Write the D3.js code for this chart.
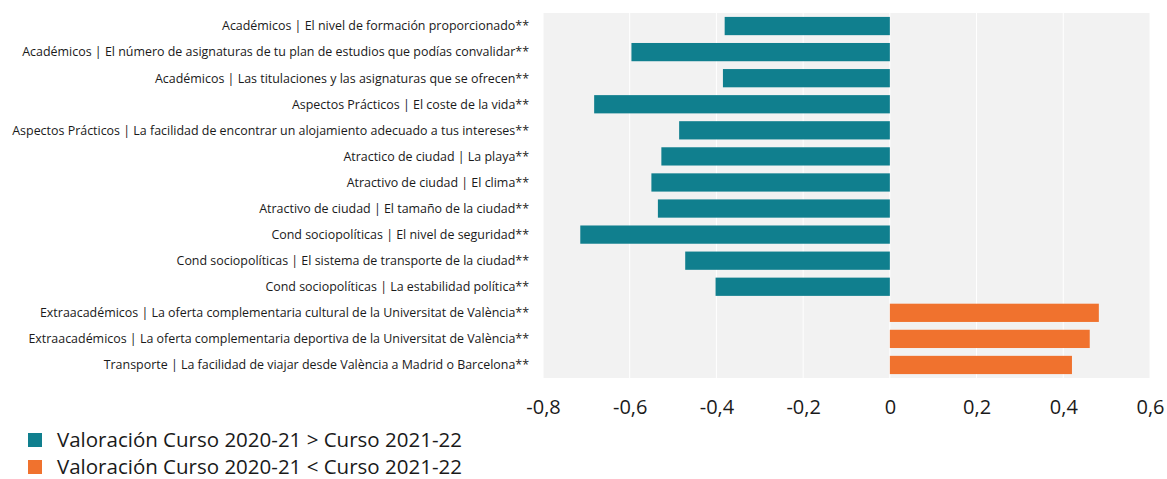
<!DOCTYPE html>
<html>
<head>
<meta charset="utf-8">
<script src="https://cdn.jsdelivr.net/npm/d3@7"></script>
<style>
  html, body { margin: 0; padding: 0; background: #fff; }
  svg { display: block; }
  text { font-family: "Open Sans", "Noto Sans", sans-serif; fill: #1a1a1a; }
</style>
</head>
<body>
<svg id="chart" width="1167" height="479"></svg>
<script>
const categories = [
  "Académicos | El nivel de formación proporcionado**",
  "Académicos | El número de asignaturas de tu plan de estudios que podías convalidar**",
  "Académicos | Las titulaciones y las asignaturas que se ofrecen**",
  "Aspectos Prácticos | El coste de la vida**",
  "Aspectos Prácticos | La facilidad de encontrar un alojamiento adecuado a tus intereses**",
  "Atractico de ciudad | La playa**",
  "Atractivo de ciudad | El clima**",
  "Atractivo de ciudad | El tamaño de la ciudad**",
  "Cond sociopolíticas | El nivel de seguridad**",
  "Cond sociopolíticas | El sistema de transporte de la ciudad**",
  "Cond sociopolíticas | La estabilidad política**",
  "Extraacadémicos | La oferta complementaria cultural de la Universitat de València**",
  "Extraacadémicos | La oferta complementaria deportiva de la Universitat de València**",
  "Transporte | La facilidad de viajar desde València a Madrid o Barcelona**"
];
const values = [-0.381, -0.596, -0.385, -0.682, -0.486, -0.527, -0.550, -0.535, -0.714, -0.472, -0.402, 0.482, 0.461, 0.420];
const tickValues = [-0.8, -0.6, -0.4, -0.2, 0, 0.2, 0.4, 0.6];
const legendLabels = ["Valoración Curso 2020-21 > Curso 2021-22", "Valoración Curso 2020-21 < Curso 2021-22"];
const colors = ["#107f8e", "#f0722e"];

const svg = d3.select("#chart");
const plot = { left: 543, right: 1150, top: 13, bottom: 378 };

const x = d3.scaleLinear().domain([-0.8, 0.6]).range([plot.left, plot.right]);
const y = d3.scaleBand().domain(categories).range([plot.top, plot.bottom]).paddingInner(0.3).paddingOuter(0.15);

svg.append("rect")
  .attr("x", plot.left).attr("y", plot.top)
  .attr("width", plot.right - plot.left).attr("height", plot.bottom - plot.top)
  .attr("fill", "#f2f2f2");

svg.append("g").selectAll("line").data(tickValues).join("line")
  .attr("x1", d => x(d)).attr("x2", d => x(d))
  .attr("y1", plot.top).attr("y2", plot.bottom)
  .attr("stroke", "#ffffff").attr("stroke-width", 1);

svg.append("g").selectAll("rect").data(values).join("rect")
  .attr("x", d => x(Math.min(0, d)))
  .attr("width", d => Math.abs(x(d) - x(0)))
  .attr("y", (d, i) => y(categories[i]))
  .attr("height", y.bandwidth())
  .attr("fill", d => d < 0 ? colors[0] : colors[1]);

// category labels
const labels = svg.append("g").selectAll("text").data(categories).join("text")
  .attr("x", 529)
  .attr("y", d => y(d) + y.bandwidth() / 2)
  .attr("dy", "0.35em")
  .attr("text-anchor", "end")
  .style("font-size", "12px")
  .text(d => d);

let maxW = 0;
labels.each(function () { maxW = Math.max(maxW, this.getComputedTextLength()); });
labels.style("font-size", (12 * 517 / maxW) + "px");

// x axis
const axis = d3.axisBottom(x).tickValues(tickValues)
  .tickFormat(d => d3.format(".1f")(d).replace(".", ",").replace("0,0", "0").replace("−", "-"))
  .tickSize(0).tickPadding(0);
const ag = svg.append("g").attr("transform", `translate(0, 400)`).call(axis);
ag.select(".domain").remove();
ag.selectAll("text").attr("fill", "#1a1a1a").style("font-size", "20px").attr("dy", "0.7em")
  .style("font-family", '"Open Sans", "Noto Sans", sans-serif');

// legend
const lg = svg.append("g").selectAll("g").data(legendLabels).join("g")
  .attr("transform", (d, i) => `translate(28, ${433 + i * 27})`);
lg.append("rect").attr("width", 14).attr("height", 14).attr("fill", (d, i) => colors[i]);
const lt = lg.append("text").attr("x", 29).attr("y", 7).attr("dy", "0.35em")
  .style("font-size", "19px").text(d => d);
let lw = 0;
lt.each(function () { lw = Math.max(lw, this.getComputedTextLength()); });
lt.style("font-size", Math.min(20.5, 19 * 406 / lw) + "px");
</script>
</body>
</html>
